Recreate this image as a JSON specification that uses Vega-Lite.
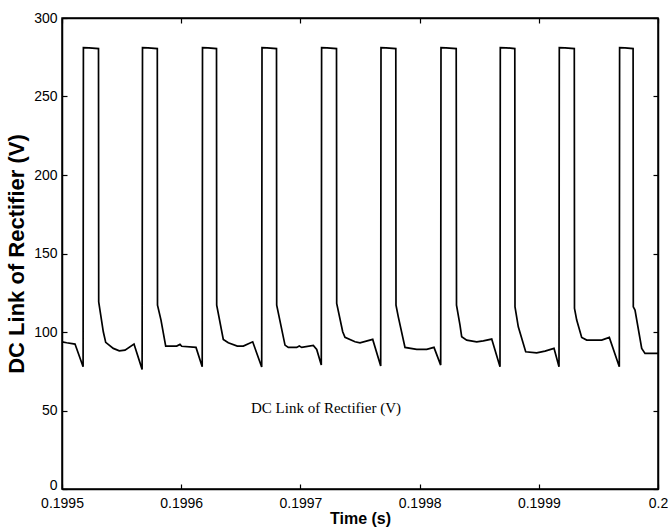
{
  "$schema": "https://vega.github.io/schema/vega-lite/v6.json",
  "width": 596,
  "height": 471,
  "autosize": {"type": "none"},
  "padding": {"left": 62, "top": 18, "right": 10, "bottom": 40},
  "background": "white",
  "config": {
    "view": {"stroke": "black", "strokeWidth": 1.5},
    "axis": {
      "grid": false,
      "domainColor": "black",
      "domainWidth": 1.5,
      "tickColor": "black",
      "tickSize": -5,
      "tickWidth": 1.2,
      "labelFont": "Liberation Sans",
      "labelFontSize": 14,
      "labelColor": "black",
      "titleFont": "Liberation Sans",
      "titleFontWeight": "bold",
      "titleColor": "black"
    }
  },
  "datasets": {
    "wave": [
      {"t": 0.1995, "v": 93.76},
      {"t": 0.19950394, "v": 93.13},
      {"t": 0.19951091, "v": 92.30},
      {"t": 0.19951770, "v": 77.85},
      {"t": 0.19951795, "v": 281.16},
      {"t": 0.19952265, "v": 281.03},
      {"t": 0.19953062, "v": 280.52},
      {"t": 0.19953079, "v": 119.22},
      {"t": 0.19953465, "v": 100.13},
      {"t": 0.19953666, "v": 93.38},
      {"t": 0.19954304, "v": 89.56},
      {"t": 0.19954807, "v": 88.03},
      {"t": 0.19955285, "v": 88.48},
      {"t": 0.19956040, "v": 92.30},
      {"t": 0.19956720, "v": 76.19},
      {"t": 0.19956753, "v": 281.16},
      {"t": 0.19957215, "v": 281.03},
      {"t": 0.19957995, "v": 280.52},
      {"t": 0.19958012, "v": 117.12},
      {"t": 0.19958305, "v": 107.58},
      {"t": 0.19958700, "v": 91.03},
      {"t": 0.19959623, "v": 91.03},
      {"t": 0.19959899, "v": 92.11},
      {"t": 0.19960042, "v": 90.90},
      {"t": 0.19961242, "v": 90.20},
      {"t": 0.19961762, "v": 77.85},
      {"t": 0.19961787, "v": 281.16},
      {"t": 0.19962248, "v": 281.03},
      {"t": 0.19962962, "v": 280.52},
      {"t": 0.19962978, "v": 117.12},
      {"t": 0.19963532, "v": 95.29},
      {"t": 0.19963951, "v": 93.13},
      {"t": 0.19964707, "v": 91.03},
      {"t": 0.19965210, "v": 91.03},
      {"t": 0.19965998, "v": 93.76},
      {"t": 0.19966753, "v": 77.66},
      {"t": 0.19966779, "v": 281.16},
      {"t": 0.19967198, "v": 281.03},
      {"t": 0.19967995, "v": 280.52},
      {"t": 0.19968012, "v": 117.12},
      {"t": 0.19968708, "v": 91.66},
      {"t": 0.19968985, "v": 90.20},
      {"t": 0.19969690, "v": 90.20},
      {"t": 0.19969908, "v": 91.03},
      {"t": 0.19970109, "v": 90.20},
      {"t": 0.19971082, "v": 91.47},
      {"t": 0.19971368, "v": 88.92},
      {"t": 0.19971753, "v": 78.93},
      {"t": 0.19971779, "v": 281.16},
      {"t": 0.19972232, "v": 281.03},
      {"t": 0.19973029, "v": 280.52},
      {"t": 0.19973045, "v": 118.20},
      {"t": 0.19973549, "v": 100.13},
      {"t": 0.19973742, "v": 96.56},
      {"t": 0.19974581, "v": 93.76},
      {"t": 0.19975000, "v": 93.13},
      {"t": 0.19976066, "v": 95.29},
      {"t": 0.19976737, "v": 78.29},
      {"t": 0.19976762, "v": 281.16},
      {"t": 0.19977181, "v": 281.03},
      {"t": 0.19978004, "v": 280.52},
      {"t": 0.19978020, "v": 117.12},
      {"t": 0.19978213, "v": 109.68},
      {"t": 0.19978775, "v": 90.20},
      {"t": 0.19979757, "v": 88.92},
      {"t": 0.19980596, "v": 88.92},
      {"t": 0.19981208, "v": 90.20},
      {"t": 0.19981770, "v": 78.93},
      {"t": 0.19981795, "v": 281.16},
      {"t": 0.19982215, "v": 281.03},
      {"t": 0.19983071, "v": 280.52},
      {"t": 0.19983096, "v": 117.12},
      {"t": 0.19983389, "v": 104.39},
      {"t": 0.19983532, "v": 96.94},
      {"t": 0.19983952, "v": 94.84},
      {"t": 0.19984790, "v": 93.76},
      {"t": 0.19985344, "v": 94.40},
      {"t": 0.19986049, "v": 95.48},
      {"t": 0.19986745, "v": 77.85},
      {"t": 0.19986770, "v": 281.16},
      {"t": 0.19987249, "v": 281.03},
      {"t": 0.19987987, "v": 280.52},
      {"t": 0.19988004, "v": 116.04},
      {"t": 0.19988280, "v": 103.31},
      {"t": 0.19988901, "v": 87.40},
      {"t": 0.19989824, "v": 86.76},
      {"t": 0.19990520, "v": 87.84},
      {"t": 0.19991275, "v": 89.56},
      {"t": 0.19991695, "v": 77.85},
      {"t": 0.19991720, "v": 281.16},
      {"t": 0.19992198, "v": 281.03},
      {"t": 0.19992978, "v": 280.52},
      {"t": 0.19992995, "v": 115.02},
      {"t": 0.19993180, "v": 107.58},
      {"t": 0.19993599, "v": 96.56},
      {"t": 0.19994019, "v": 94.84},
      {"t": 0.19995277, "v": 94.84},
      {"t": 0.19995915, "v": 96.56},
      {"t": 0.19996754, "v": 77.85},
      {"t": 0.19996779, "v": 281.16},
      {"t": 0.19997232, "v": 281.03},
      {"t": 0.19997911, "v": 280.52},
      {"t": 0.19997928, "v": 116.04},
      {"t": 0.19998071, "v": 113.94},
      {"t": 0.19998633, "v": 89.56},
      {"t": 0.19998909, "v": 86.38},
      {"t": 0.2, "v": 86.38}
    ],
    "label": [
      {"t": 0.19972147, "v": 51.6, "text": "DC Link of Rectifier (V)"}
    ]
  },
  "layer": [
    {
      "data": {"name": "wave"},
      "mark": {"type": "line", "color": "black", "strokeWidth": 1.7, "interpolate": "linear"},
      "encoding": {
        "x": {
          "field": "t", "type": "quantitative",
          "scale": {"domain": [0.1995, 0.2], "nice": false, "zero": false},
          "axis": {"orient": "bottom", "values": [0.1995, 0.1996, 0.1997, 0.1998, 0.1999, 0.2], "format": ".4~f", "labelPadding": 12, "title": "Time (s)", "titleFontSize": 16, "titlePadding": 0, "labelFlush": false}
        },
        "y": {
          "field": "v", "type": "quantitative",
          "scale": {"domain": [0, 300], "nice": false},
          "axis": {"orient": "left", "values": [0, 50, 100, 150, 200, 250, 300], "labelPadding": 10, "labelOffset": {"expr": "datum.value == 0 ? -4 : 0"}, "title": "DC Link of Rectifier (V)", "titleFontSize": 22, "titlePadding": 5, "labelFlush": false}
        },
        "order": {"field": "t", "type": "quantitative"}
      }
    },
    {
      "data": {"name": "label"},
      "mark": {"type": "text", "font": "Liberation Serif", "fontSize": 15, "color": "black", "align": "center", "baseline": "middle"},
      "encoding": {
        "x": {"field": "t", "type": "quantitative",
          "axis": {"orient": "top", "values": [0.1995, 0.1996, 0.1997, 0.1998, 0.1999, 0.2], "labels": false, "title": null}},
        "y": {"field": "v", "type": "quantitative",
          "axis": {"orient": "right", "values": [0, 50, 100, 150, 200, 250, 300], "labels": false, "title": null}},
        "text": {"field": "text"}
      }
    }
  ],
  "resolve": {"axis": {"x": "independent", "y": "independent"}}
}
